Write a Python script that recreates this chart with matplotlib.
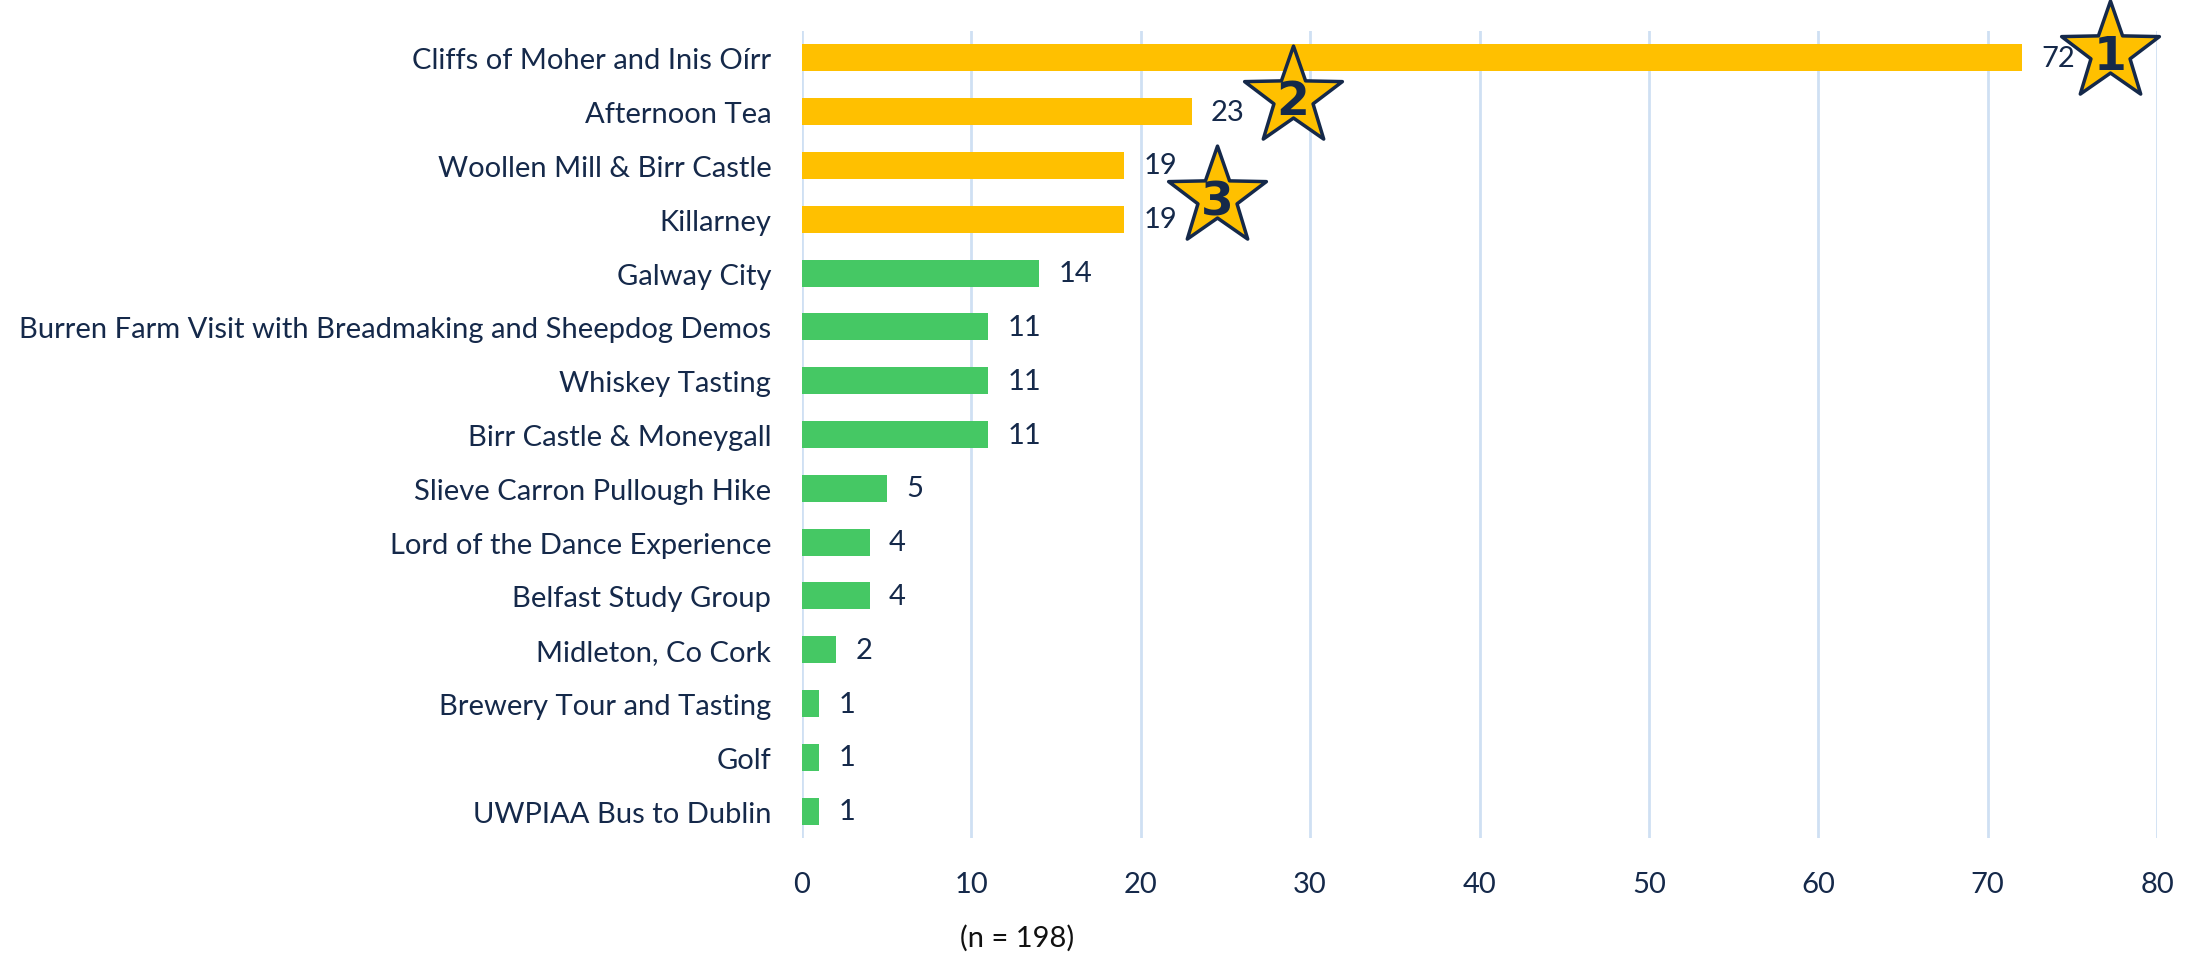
import matplotlib
matplotlib.use("Agg")
import matplotlib.pyplot as plt
import numpy as np
from matplotlib.path import Path

categories = [
    "Cliffs of Moher and Inis Oírr",
    "Afternoon Tea",
    "Woollen Mill & Birr Castle",
    "Killarney",
    "Galway City",
    "Burren Farm Visit with Breadmaking and Sheepdog Demos",
    "Whiskey Tasting",
    "Birr Castle & Moneygall",
    "Slieve Carron Pullough Hike",
    "Lord of the Dance Experience",
    "Belfast Study Group",
    "Midleton, Co Cork",
    "Brewery Tour and Tasting",
    "Golf",
    "UWPIAA Bus to Dublin",
]
values = [72, 23, 19, 19, 14, 11, 11, 11, 5, 4, 4, 2, 1, 1, 1]
top_n = 4
x_ticks = [0, 10, 20, 30, 40, 50, 60, 70, 80]
note = "(n = 198)"
ranks = ["1", "2", "3"]

GOLD = "#FFC000"
GREEN = "#45C864"
TEXT = "#15294A"
GRID = "#CFE0F3"

plt.rcParams['font.family'] = ['Lato', 'DejaVu Sans']

fig = plt.figure(figsize=(21.88, 9.54), dpi=100)
ax = fig.add_axes([0.3665, 0.1205, 0.6194, 0.846])

y = np.arange(len(categories))
colors = [GOLD if i < top_n else GREEN for i in range(len(values))]
ax.barh(y, values, height=0.5, color=colors, zorder=3)

ax.set_ylim(len(categories) - 0.5, -0.5)
ax.set_xlim(0, 80)
ax.set_xticks(x_ticks)
ax.set_yticks(y)
ax.set_yticklabels(categories)
ax.tick_params(axis='y', length=0, pad=22, labelsize=21, labelcolor=TEXT)
ax.tick_params(axis='x', length=0, pad=24, labelsize=21, labelcolor=TEXT)
for s in ax.spines.values():
    s.set_visible(False)
ax.grid(axis='x', color=GRID, linewidth=2, zorder=0)
ax.grid(axis='y', visible=False)

for i, v in enumerate(values):
    ax.annotate(str(v), (v, i), xytext=(14, 0), textcoords='offset points',
                va='center', ha='left', fontsize=21, color=TEXT)

# star marker path
pts = []
for k in range(10):
    ang = np.pi / 2 + k * np.pi / 5
    r = 1.0 if k % 2 == 0 else 0.40
    pts.append((r * np.cos(ang), r * np.sin(ang)))
pts.append(pts[0])
codes = [Path.MOVETO] + [Path.LINETO] * 9 + [Path.CLOSEPOLY]
star = Path(pts, codes)

star_pos = [(values[0] + 5.2, 0 - 0.1), (values[1] + 6.0, 1 - 0.27), (values[2] + 5.5, 2.59)]
for (sx, sy), r in zip(star_pos, ranks):
    ax.plot(sx, sy, marker=star, markersize=74, markerfacecolor=GOLD,
            markeredgecolor=TEXT, markeredgewidth=2.5, clip_on=False, zorder=5)
    ax.text(sx, sy + 0.08, r, ha='center', va='center', fontsize=34,
            fontweight='heavy', color=TEXT, family='DejaVu Sans', zorder=6, clip_on=False)

fig.text(0.4648, 0.0168, note, ha='center', va='center', fontsize=21, color='#111111')

fig.savefig("out.png", dpi=100, facecolor='white')
